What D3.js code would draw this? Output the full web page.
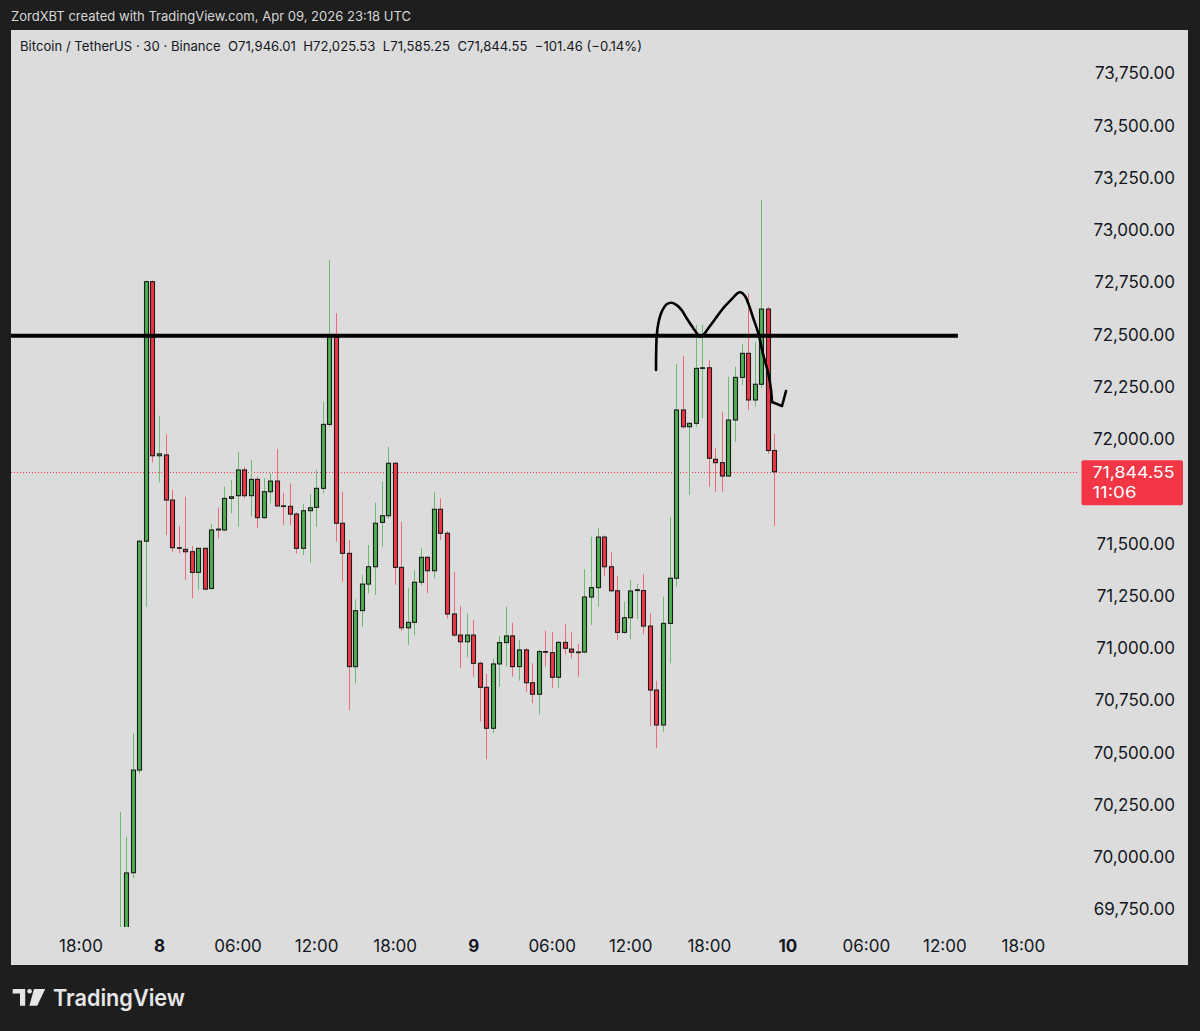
<!DOCTYPE html>
<html>
<head>
<meta charset="utf-8">
<script src="https://cdn.jsdelivr.net/npm/d3@7/dist/d3.min.js"></script>
<style>
  html, body { margin: 0; padding: 0; background: #1e1e1e; }
  svg { display: block; }
  text { font-family: Inter, "Liberation Sans", "DejaVu Sans", sans-serif; }
</style>
</head>
<body>
<svg id="chart" width="1200" height="1031"></svg>
<script>
// ---------------- DATA ----------------
const headerText = "ZordXBT created with TradingView.com, Apr 09, 2026 23:18 UTC";
const symbolTitle = "Bitcoin / TetherUS · 30 · Binance";
const firstBarTime = "2026-04-07T21:00:00Z";   // 30-minute bars
const barMinutes = 30;

const opens = [69350,69560,69926,70417,71512,72754,71921,71925,71709,71481,71473,71462,71363,71478,71286,71570,71566,71717,71730,71853,
  71730,71808,71625,71749,71800,71681,71679,71642,71478,71658,71674,71765,72071,72491,71598,71454,70912,71180,71307,71390,
  71602,71634,71885,71387,71098,71124,71316,71435,71371,71665,71550,71164,71063,71031,71063,70928,70813,70617,70925,71027,
  71059,70912,70992,70835,70780,70984,70979,70861,71028,70996,70982,70982,71245,71290,71532,71390,71275,71076,71146,71276,
  71276,71106,70800,70633,71119,71335,72140,72060,72076,72339,72342,71904,71888,71824,72092,72296,72411,72188,72263,72623,71946.01];
const highs = [70218,70098,70594,71520,72760,72760,72113,72024,71757,71585,71725,71489,71478,71482,71594,71674,71773,71805,71940,71868,
  71901,71820,71813,71837,71953,71744,71789,71650,71690,71738,71853,72180,72858,72603,71749,71518,71234,71350,71494,71697,
  71797,71964,71890,71606,71290,71374,71481,71440,71749,71717,71560,71366,71202,71167,71135,70936,70877,70952,71059,71199,
  71122,71040,71000,70928,70995,71084,71079,71035,71115,71076,71020,71378,71534,71574,71540,71459,71346,71223,71327,71306,
  71355,71167,70845,71247,71629,72360,72400,72080,72547,72547,72379,71957,72132,72299,72347,72456,72698,72467,73145,72634,72025.53];
const lows = [69250,69540,69900,70400,71197,71888,71794,71542,71462,71454,71327,71239,71279,71278,71280,71526,71560,71646,71582,71717,
  71629,71574,71620,71693,71675,71590,71590,71454,71445,71409,71582,71741,72060,71510,71318,70704,70832,71103,71263,71255,
  71486,71620,71303,71082,71016,71062,71300,71263,71335,71518,71143,71055,70904,70957,70864,70649,70469,70593,70816,70912,
  70864,70845,70792,70737,70684,70912,70811,70811,70971,70952,70864,70975,71111,71199,71346,71270,71040,71070,71043,71139,
  71067,70628,70521,70601,70928,71294,72050,71733,72060,72100,71773,71749,71749,71820,71988,72260,72140,72156,72245,71930,71585.25];
const closes = [69560,69925,70417,71512,72754,71921,71930,71709,71481,71479,71462,71363,71478,71283,71566,71566,71717,71725,71853,71730,
  71808,71625,71749,71800,71681,71679,71642,71478,71658,71672,71765,72071,72491,71598,71454,70912,71180,71307,71390,71598,
  71634,71885,71387,71098,71124,71316,71435,71371,71665,71550,71164,71063,71031,71063,70928,70813,70617,70925,71027,71059,
  70912,70992,70835,70780,70984,70981,70861,71028,71000,70981,70980,71245,71290,71532,71390,71275,71076,71146,71274,71280,
  71106,70800,70633,71119,71335,72140,72060,72076,72339,72342,71909,71888,71824,72092,72296,72411,72188,72263,72623,71946.01,71844.55];

const lastChange = "−101.46 (−0.14%)";
const countdown = "11:06";

// 71,750.00 is hidden behind the last-price label in the original
const priceTicks = [73750,73500,73250,73000,72750,72500,72250,72000,71500,71250,71000,70750,70500,70250,70000,69750];
const timeTicks = ["2026-04-07T18:00:00Z","2026-04-08T00:00:00Z","2026-04-08T06:00:00Z","2026-04-08T12:00:00Z","2026-04-08T18:00:00Z",
  "2026-04-09T00:00:00Z","2026-04-09T06:00:00Z","2026-04-09T12:00:00Z","2026-04-09T18:00:00Z",
  "2026-04-10T00:00:00Z","2026-04-10T06:00:00Z","2026-04-10T12:00:00Z","2026-04-10T18:00:00Z"];
const timeTickLabels = ["18:00","8","06:00","12:00","18:00","9","06:00","12:00","18:00","10","06:00","12:00","18:00"];
const boldTickLabels = ["8","9","10"];

// horizontal level drawn by the author
const levelPrice = 72495;
const levelEnd = "2026-04-10T13:02:00Z";
// hand-drawn sketch: [bar offset from first bar, price]
const sketchMain = [[81.94,72331],[82.04,72491],[82.29,72555],[82.81,72610],[83.57,72646],[84.33,72653],[85.10,72642],[85.86,72618],
  [86.62,72579],[87.64,72531],[88.25,72504],[88.66,72491],[89.16,72499],[89.93,72531],[90.95,72574],[92.22,72627],[93.50,72670],
  [94.36,72698],[94.88,72703],[95.53,72685],[96.04,72650],[96.80,72579],[97.57,72507],[98.33,72403],[99.09,72316],[99.51,72236],[99.66,72178]];
const sketchHook = [[99.66,72178],[101.19,72159],[101.80,72231]];

// ---------------- LAYOUT ----------------
const svg = d3.select("#chart");
const panel = {x: 11, y: 30, w: 1177, h: 935};
const plot = {left: 11, right: 1078, top: 30, bottom: 927};
const T0 = Date.parse(firstBarTime);
const MIN = 60000;

const x = d3.scaleUtc()
  .domain([new Date(Date.parse("2026-04-08T00:00:00Z") - 678.4*MIN), new Date(Date.parse("2026-04-08T00:00:00Z") + 4212.4*MIN)])
  .range([plot.left, plot.right]);
const y = d3.scaleLinear().domain([69666.3, 73953.3]).range([927, 31]);

const barTime = k => new Date(T0 + k*barMinutes*MIN);
const bars = opens.map((o,k) => ({t: barTime(k), o, h: highs[k], l: lows[k], c: closes[k]}));
const last = bars[bars.length-1];

// header
svg.append("text").attr("x", 11).attr("y", 21).attr("fill", "#d6d6d6")
  .attr("font-size", 13).attr("textLength", 400).attr("lengthAdjust", "spacingAndGlyphs").text(headerText);

// panel
svg.append("rect").attr("x", panel.x).attr("y", panel.y).attr("width", panel.w).attr("height", panel.h).attr("fill", "#dcdcdc");

// legend
const fmt2 = d3.format(",.2f");
svg.append("text").attr("x", 20).attr("y", 51).attr("fill", "#131722").attr("font-size", 13.2)
  .style("white-space", "pre").attr("textLength", 622).attr("lengthAdjust", "spacingAndGlyphs")
  .text(`${symbolTitle}  O${fmt2(last.o)}  H${fmt2(last.h)}  L${fmt2(last.l)}  C${fmt2(last.c)}  ${lastChange}`);

// clip
svg.append("defs").append("clipPath").attr("id", "plotclip").append("rect")
  .attr("x", plot.left).attr("y", plot.top).attr("width", plot.right - plot.left).attr("height", plot.bottom - plot.top);
const g = svg.append("g").attr("clip-path", "url(#plotclip)");

// current price dotted line
const yLast = Math.round(y(last.c)) + 0.5;
g.append("line").attr("x1", plot.left).attr("x2", 1082).attr("y1", yLast).attr("y2", yLast)
  .attr("stroke", "#f23645").attr("stroke-width", 1).attr("stroke-dasharray", "1,2");

// candles
const up = d => d.c >= d.o;
const cx = d => Math.round(x(d.t)) + 0.5;
g.selectAll(".wick").data(bars).join("line").attr("class", "wick")
  .attr("x1", cx).attr("x2", cx).attr("y1", d => y(d.h)).attr("y2", d => y(d.l))
  .attr("stroke", d => up(d) ? "#6dbb70" : "#ee6b76").attr("stroke-width", 1);
g.selectAll(".body").data(bars).join("rect").attr("class", "body")
  .attr("x", d => cx(d) - 2).attr("width", 4)
  .attr("y", d => y(Math.max(d.o, d.c)))
  .attr("height", d => Math.max(0.6, Math.abs(y(d.o) - y(d.c))))
  .attr("fill", d => up(d) ? "#4caf50" : "#f23645")
  .attr("stroke", "#1c1c1c").attr("stroke-width", 1.1);

// level line
g.append("line").attr("x1", plot.left).attr("x2", x(new Date(levelEnd)))
  .attr("y1", y(levelPrice)).attr("y2", y(levelPrice)).attr("stroke", "#000").attr("stroke-width", 4);

// sketch
const sx = d => x(barTime(d[0])), sy = d => y(d[1]);
g.append("path").attr("d", d3.line().x(sx).y(sy).curve(d3.curveCatmullRom.alpha(0.5))(sketchMain))
  .attr("fill", "none").attr("stroke", "#000").attr("stroke-width", 2.6).attr("stroke-linecap", "round").attr("stroke-linejoin", "round");
g.append("path").attr("d", d3.line().x(sx).y(sy)(sketchHook))
  .attr("fill", "none").attr("stroke", "#000").attr("stroke-width", 2.6).attr("stroke-linecap", "round").attr("stroke-linejoin", "round");

// price axis
const yAxis = d3.axisLeft(y).tickValues(priceTicks).tickFormat(fmt2).tickSize(0).tickPadding(0);
const ya = svg.append("g").attr("transform", "translate(1175,0)").call(yAxis);
ya.select(".domain").remove();
ya.selectAll("text").attr("fill", "#131722").attr("font-size", 17)
  .style("font-family", "Inter, 'Liberation Sans', sans-serif");

// time axis
const xAxis = d3.axisBottom(x).tickValues(timeTicks.map(s => new Date(s)))
  .tickFormat((d,i) => timeTickLabels[i]).tickSize(0).tickPadding(12.6);
const xa = svg.append("g").attr("transform", `translate(0,${plot.bottom})`).call(xAxis);
xa.select(".domain").remove();
xa.selectAll("text").attr("fill", "#131722").attr("font-size", 17)
  .style("font-family", "Inter, 'Liberation Sans', sans-serif")
  .attr("font-weight", (d,i) => boldTickLabels.includes(timeTickLabels[i]) ? 700 : 400);

// last price label
const lbl = svg.append("g");
lbl.append("rect").attr("x", 1081.5).attr("y", y(last.c) - 11.5).attr("width", 101.5).attr("height", 45).attr("rx", 2)
  .attr("fill", "#f23645");
lbl.append("text").attr("x", 1092.5).attr("y", y(last.c) + 5.8).attr("fill", "#fff").attr("font-size", 16.5)
  .attr("textLength", 82).attr("lengthAdjust", "spacingAndGlyphs").text(fmt2(last.c));
lbl.append("text").attr("x", 1092.5).attr("y", y(last.c) + 26.2).attr("fill", "#fff").attr("font-size", 16.5)
  .attr("textLength", 44).attr("lengthAdjust", "spacingAndGlyphs").text(countdown);

// footer logo
const logo = svg.append("g").attr("fill", "#e6e6e6");
logo.append("path").attr("d", "M12.7,989 H25.2 V1005.8 H20 V993.4 H12.7 Z");
logo.append("circle").attr("cx", 29.6).attr("cy", 991.2).attr("r", 2.3);
logo.append("path").attr("d", "M34,989 H45.2 L37.2,1005.8 H29.4 Z");
svg.append("text").attr("x", 53).attr("y", 1006).attr("fill", "#e6e6e6").attr("font-size", 23)
  .attr("font-weight", 600).attr("textLength", 132).attr("lengthAdjust", "spacingAndGlyphs").text("TradingView");
</script>
</body>
</html>
